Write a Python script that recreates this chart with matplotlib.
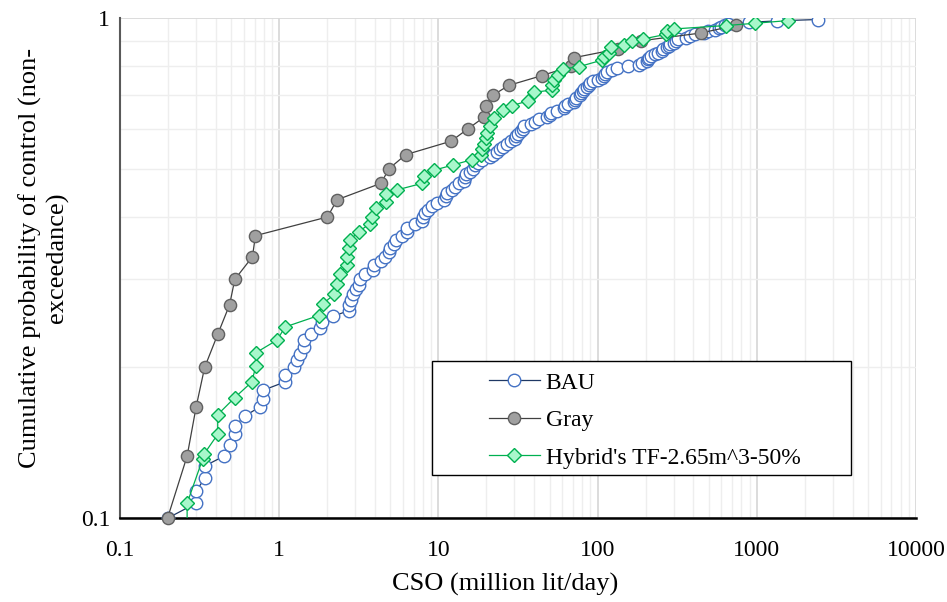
#!/usr/bin/env python3
# plot.py
# Cumulative probability of CSO control: BAU vs Gray vs Hybrid

import numpy as np
import matplotlib
matplotlib.use("Agg")
import matplotlib.pyplot as plt
from matplotlib.patches import Rectangle
from matplotlib.ticker import FixedLocator, LogLocator, FuncFormatter, NullFormatter

# ---- data ----
bau_cso = [
    0.20, 0.30, 0.30, 0.34, 0.34, 0.45, 0.49, 0.53, 0.53, 0.61,
    0.76, 0.79, 0.79, 1.08, 1.08, 1.24, 1.30, 1.35, 1.43, 1.43,
    1.59, 1.80, 1.86, 2.17, 2.74, 2.74, 2.81, 2.89, 3.02, 3.16,
    3.24, 3.48, 3.89, 3.93, 4.33, 4.65, 4.88, 5.00, 5.25, 5.38,
    5.93, 6.37, 6.37, 7.18, 7.91, 8.03, 8.18, 8.66, 9.14, 9.83,
    10.8, 11.1, 11.4, 12.1, 12.8, 13.4, 14.4, 14.7, 15.0, 15.7,
    16.4, 17.0, 17.7, 18.9, 21.2, 21.9, 23.3, 24.2, 25.3, 26.8,
    28.4, 30.3, 30.9, 31.8, 32.8, 33.8, 34.7, 38.4, 40.7, 42.6,
    48.4, 49.9, 51.3, 55.2, 61.1, 62.4, 65.6, 70.6, 71.6, 73.2,
    77.5, 79.2, 80.9, 82.7, 85.2, 87.7, 90.2, 92.9, 101, 107,
    109, 112, 115, 124, 133, 156, 181, 189, 203, 207,
    210, 215, 228, 241, 252, 259, 271, 279, 287, 300,
    313, 322, 357, 378, 412, 463, 497, 550, 575, 600,
    627, 664, 887, 1349, 2406,
]
bau_prob = [
    0.100, 0.107, 0.113, 0.120, 0.127, 0.133, 0.140, 0.147, 0.153, 0.160,
    0.167, 0.173, 0.180, 0.187, 0.193, 0.200, 0.207, 0.213, 0.220, 0.227,
    0.233, 0.240, 0.247, 0.253, 0.260, 0.267, 0.273, 0.280, 0.287, 0.293,
    0.300, 0.307, 0.313, 0.320, 0.327, 0.333, 0.340, 0.347, 0.353, 0.360,
    0.367, 0.373, 0.380, 0.387, 0.393, 0.400, 0.407, 0.413, 0.420, 0.427,
    0.433, 0.440, 0.447, 0.453, 0.460, 0.467, 0.473, 0.480, 0.487, 0.493,
    0.500, 0.507, 0.513, 0.520, 0.527, 0.533, 0.540, 0.547, 0.553, 0.560,
    0.567, 0.573, 0.580, 0.587, 0.593, 0.600, 0.607, 0.613, 0.620, 0.627,
    0.633, 0.640, 0.647, 0.653, 0.660, 0.667, 0.673, 0.680, 0.687, 0.693,
    0.700, 0.707, 0.713, 0.720, 0.727, 0.733, 0.740, 0.747, 0.753, 0.760,
    0.767, 0.773, 0.780, 0.787, 0.793, 0.800, 0.807, 0.813, 0.820, 0.827,
    0.833, 0.840, 0.847, 0.853, 0.860, 0.867, 0.873, 0.880, 0.887, 0.893,
    0.900, 0.907, 0.913, 0.920, 0.927, 0.933, 0.940, 0.947, 0.953, 0.960,
    0.967, 0.973, 0.980, 0.987, 0.993,
]

gray_cso = [
    0.199, 0.264, 0.301, 0.340, 0.411, 0.488, 0.526, 0.679, 0.709, 2.01,
    2.31, 4.35, 4.91, 6.24, 12.0, 15.3, 19.3, 19.8, 21.9, 27.6,
    44.7, 67.6, 71.1, 134, 186, 443, 745,
]
gray_prob = [
    0.100, 0.133, 0.167, 0.200, 0.233, 0.267, 0.300, 0.333, 0.367, 0.400,
    0.433, 0.467, 0.500, 0.533, 0.567, 0.600, 0.633, 0.667, 0.700, 0.733,
    0.767, 0.800, 0.833, 0.867, 0.900, 0.933, 0.967,
]

hybrid_cso = [
    0.264, 0.264, 0.330, 0.336, 0.411, 0.411, 0.525, 0.672, 0.713, 0.713,
    0.971, 1.088, 1.766, 1.876, 2.216, 2.314, 2.399, 2.647, 2.685, 2.737,
    2.789, 3.162, 3.724, 3.839, 4.027, 4.653, 4.687, 5.480, 7.91, 8.10,
    9.36, 12.3, 16.3, 18.5, 18.8, 19.3, 19.8, 20.3, 21.2, 22.3,
    25.6, 29.2, 36.5, 39.7, 51.9, 51.9, 53.1, 56.4, 60.6, 76.2,
    107, 109, 118, 121, 146, 165, 193, 267, 274, 304,
    645, 974, 1559,
]
hybrid_prob = [
    0.093, 0.107, 0.131, 0.134, 0.147, 0.161, 0.174, 0.187, 0.201, 0.214,
    0.227, 0.241, 0.254, 0.268, 0.280, 0.294, 0.308, 0.320, 0.333, 0.346,
    0.360, 0.374, 0.388, 0.400, 0.417, 0.428, 0.444, 0.453, 0.467, 0.483,
    0.496, 0.508, 0.521, 0.532, 0.548, 0.561, 0.575, 0.589, 0.608, 0.630,
    0.655, 0.668, 0.683, 0.710, 0.718, 0.735, 0.752, 0.770, 0.791, 0.799,
    0.824, 0.837, 0.850, 0.877, 0.885, 0.900, 0.908, 0.927, 0.940, 0.951,
    0.966, 0.976, 0.988,
]

x_ticks = [0.1, 1, 10, 100, 1000, 10000]
y_ticks = [0.1, 1]
series_labels = ["BAU", "Gray", "Hybrid's TF-2.65m^3-50%"]


def style_axes(ax):
    ax.set_xscale("log")
    ax.set_yscale("log")
    ax.set_xlim(0.1, 10000)
    ax.set_ylim(0.1, 1)

    ax.xaxis.set_major_locator(FixedLocator(x_ticks))
    ax.yaxis.set_major_locator(FixedLocator(y_ticks))
    ax.xaxis.set_minor_locator(LogLocator(base=10, subs=np.arange(2, 10)))
    ax.yaxis.set_minor_locator(LogLocator(base=10, subs=np.arange(2, 10)))
    fmt = FuncFormatter(lambda v, _: f"{v:g}")
    ax.xaxis.set_major_formatter(fmt)
    ax.yaxis.set_major_formatter(fmt)
    ax.xaxis.set_minor_formatter(NullFormatter())
    ax.yaxis.set_minor_formatter(NullFormatter())

    ax.set_axisbelow(True)
    ax.grid(True, which="major", color="#d9d9d9", lw=1.3)
    ax.grid(True, which="minor", color="#eeeeee", lw=1.0)

    ax.tick_params(which="both", length=0, labelsize=17)
    ax.tick_params(axis="x", pad=15.5)
    ax.tick_params(axis="y", pad=7)

    for side in ("top", "right"):
        ax.spines[side].set_visible(False)
    ax.spines["left"].set_color("#595959")
    ax.spines["left"].set_linewidth(1.5)
    ax.spines["bottom"].set_color("black")
    ax.spines["bottom"].set_linewidth(1.8)


def main():
    plt.rcParams["font.family"] = ["Liberation Serif", "DejaVu Serif"]

    fig = plt.figure(figsize=(9.47, 6.02), dpi=100)
    ax = fig.add_axes([120 / 947, 1 - 518 / 602, 796 / 947, 500 / 602])
    style_axes(ax)

    ax.plot(bau_cso, bau_prob, color="#1f3864", lw=0.9,
            marker="o", ms=9, mfc="white", mec="#4472c4", mew=1.0,
            label=series_labels[0], zorder=3)
    ax.plot(gray_cso, gray_prob, color="#404040", lw=0.9,
            marker="o", ms=8.8, mfc="#a0a0a0", mec="#606060", mew=1.0,
            label=series_labels[1], zorder=4, clip_on=False)
    ax.plot(hybrid_cso, hybrid_prob, color="#00b050", lw=0.9,
            marker="D", ms=7.3, mfc="#a8f7cb", mec="#00b050", mew=1.0,
            label=series_labels[2], zorder=5)

    # legend box drawn separately so the padding matches the original
    frame = Rectangle((0.392, 0.086), 0.526, 0.2286, transform=ax.transAxes,
                      facecolor="white", edgecolor="black", lw=1.0, zorder=6)
    ax.add_patch(frame)
    leg = ax.legend(loc="upper left", bbox_to_anchor=(0.4636, 0.292),
                    frameon=False, fontsize=17, handlelength=2.15,
                    handletextpad=0.25, labelspacing=0.68,
                    borderpad=0, borderaxespad=0)
    leg.set_zorder(7)

    fig.text(505 / 947, 1 - 584 / 602, "CSO (million lit/day)",
             ha="center", va="center", fontsize=19)
    fig.text(44 / 947, 1 - 258 / 602,
             "Cumulative probability of control (non-\nexceedance)",
             rotation=90, ha="center", va="center", fontsize=19,
             multialignment="center")

    fig.savefig("out.png", dpi=100)


if __name__ == "__main__":
    main()
